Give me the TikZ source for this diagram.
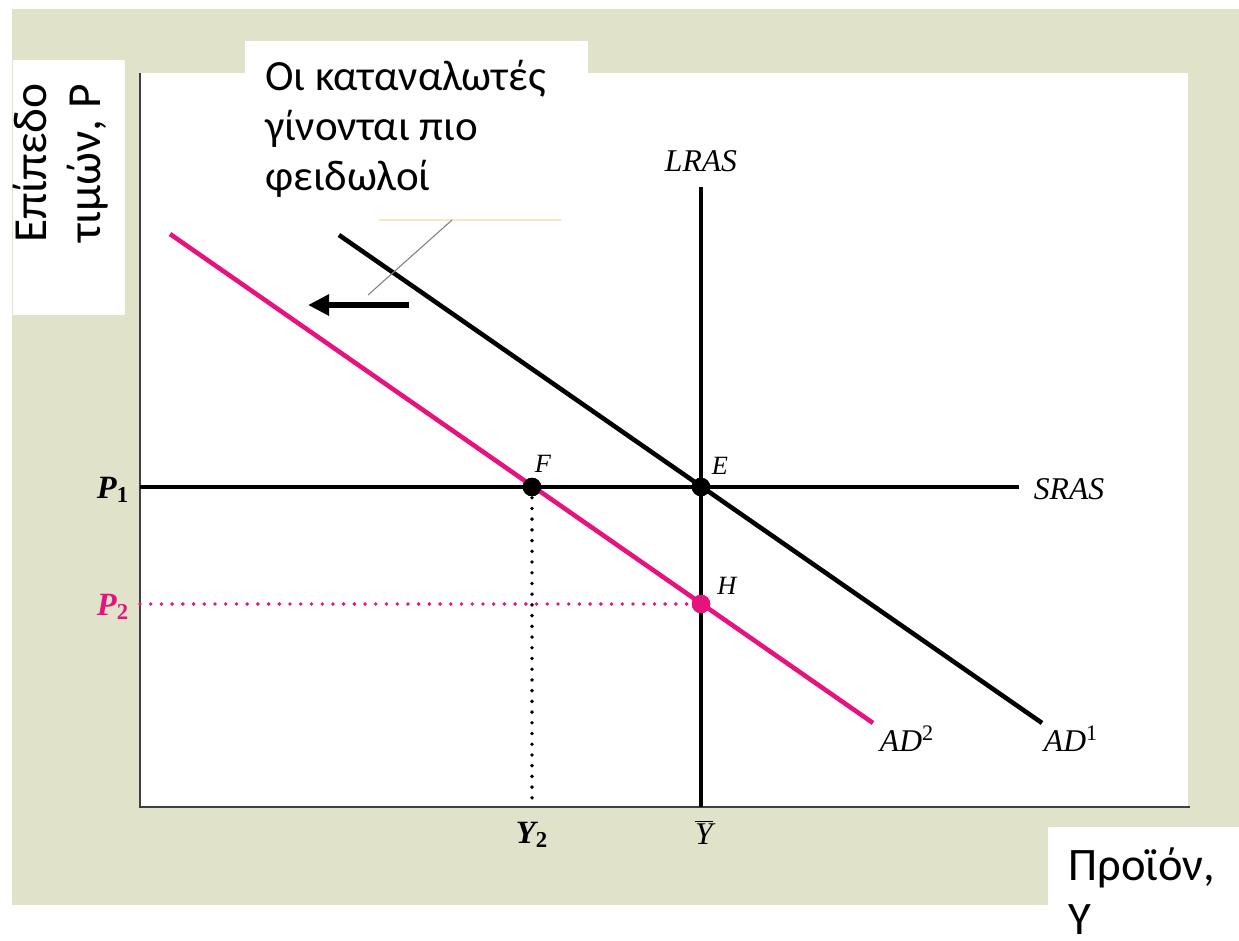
\documentclass[tikz,border=0pt]{standalone}
\usepackage{fontspec}
\setmainfont{Liberation Serif}
\newfontfamily\grfont{Carlito}
\usepackage{xcolor}
\usetikzlibrary{arrows.meta}
\definecolor{adpink}{HTML}{E6137F}
\definecolor{paneltan}{HTML}{E0E3C9}
\definecolor{boxline}{HTML}{FCE4C8}

\begin{document}
\begin{tikzpicture}[x=0.02cm, y=-0.02cm,
    curve/.style={line width=2.6pt},
    axisline/.style={line width=1.4pt, draw=black!75},
    guide/.style={line width=2.2pt, line cap=round, dash pattern=on 0pt off 6.1pt},
    dot/.style={circle, fill, inner sep=0pt, minimum size=10.5pt},
    lbl/.style={font=\fontsize{18}{20}\selectfont\itshape, inner sep=0pt},
    boldlbl/.style={lbl, font=\fontsize{18.5}{20}\selectfont\bfseries\itshape},
    ptlbl/.style={font=\fontsize{15}{17}\selectfont\itshape, inner sep=0pt},
    grtext/.style={font=\fontsize{24.5}{28.4}\selectfont\grfont, align=left, inner sep=0pt},
    axtext/.style={grtext, font=\fontsize{27}{30.7}\selectfont\grfont}]
        % Panels
        \useasboundingbox (0,0) rectangle (1239,940);
        \fill[white] (0,0) rectangle (1239,940);
        \fill[paneltan] (12,9) rectangle (1239,905);
        \fill[white] (140,73) rectangle (1188,807);
        \fill[white] (245,41) rectangle (588,73);
        \fill[white] (13,60) rectangle (125,315);
        \fill[white] (1048,827) rectangle (1239,940);

        % Axes
        \coordinate (O) at (140,807);
        \coordinate (ytop) at (140,73);
        \coordinate (xend) at (1190,807);
        \draw[axisline] (ytop) -- (O) -- (xend);

        % Nodes
        \node[dot] (F) at (532,487) {};
        \node[dot] (E) at (701,487) {};
        \node[dot, adpink] (H) at (701,604) {};
        \coordinate (p1) at (140,487);
        \coordinate (p2) at (140,604);
        \coordinate (y2) at (532,807);
        \coordinate (lrastop) at (701,187);
        \coordinate (lrasbot) at (701,807);
        \coordinate (srasend) at (1019,487);
        \coordinate (ad1a) at (339,235);
        \coordinate (ad1b) at (1042,723);
        \coordinate (ad2a) at (170,234);
        \coordinate (ad2b) at (873,723);

        % Curves
        \draw[guide, adpink] (p2) -- (H.center);
        \draw[guide] (F.center) -- (y2);
        \draw[curve] (lrastop) -- (lrasbot);
        \draw[curve] (p1) -- (srasend);
        \draw[curve] (ad1a) -- (ad1b);
        \draw[curve, adpink] (ad2a) -- (ad2b);
        \node[dot] at (F) {};
        \node[dot] at (E) {};
        \node[dot, adpink] at (H) {};

        % Labels
        \node[lbl] (lras) at (701,161) {LRAS};
        \node[lbl] (sras) at (1069,489) {SRAS};
        \node[lbl] (ad1) at (1071,739) {AD\textsuperscript{\upshape 1}};
        \node[lbl] (ad2) at (907,739) {AD\textsuperscript{\upshape 2}};
        \node[boldlbl] (p1lbl) at (113,490) {P\textsubscript{\upshape 1}};
        \node[boldlbl, adpink] (p2lbl) at (113,607) {P\textsubscript{\upshape 2}};
        \node[boldlbl] (y2lbl) at (532,835) {Y\textsubscript{\upshape 2}};
        \node[lbl] (ybar) at (704,832) {$\overline{\mbox{\itshape Y}}$};
        \node[ptlbl] (flbl) at (543,464) {F};
        \node[ptlbl] (elbl) at (720,466) {E};
        \node[ptlbl] (hlbl) at (727,586) {H};

        % Note and shift arrow
        \node[grtext, anchor=north west] (note) at (265,60) {Οι καταναλωτές\\γίνονται πιο\\φειδωλοί};
        \coordinate (boxa) at (379,220);
        \coordinate (boxb) at (561,220);
        \coordinate (leadtop) at (452,220);
        \coordinate (leadbot) at (368,295);
        \draw[boxline, line width=0.6pt] (boxa) -- (boxb);
        \draw[black!50, line width=0.6pt] (leadtop) -- (leadbot);
        \coordinate (arrtail) at (409,305);
        \coordinate (arrtip) at (308,305);
        \draw[line width=3.4pt, -{Triangle[length=12pt, width=11.5pt]}] (arrtail) -- (arrtip);

        % Axis titles
        \node[axtext, rotate=90, anchor=north west] (ylabel) at (13,243) {Επίπεδο\\τιμών, P};
        \node[axtext, font=\fontsize{26.5}{30.7}\selectfont\grfont, anchor=north west] (xlabel) at (1068,847) {Προϊόν,\\Υ};
    \end{tikzpicture}
\end{document}
